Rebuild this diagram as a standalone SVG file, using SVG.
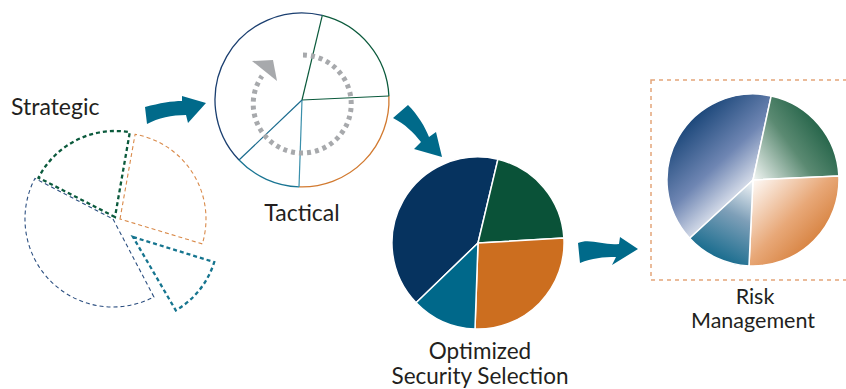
<svg xmlns="http://www.w3.org/2000/svg" width="846" height="389" viewBox="0 0 846 389">
<style>
.lbl{font-family:Lato,"Liberation Sans",sans-serif;font-size:23px;fill:#231f20}
.sm{font-size:21.5px}
.md{font-size:22.5px}
.arrow{fill:#006a8a}
.sep{stroke:#ffffff;stroke-width:1.5;stroke-linejoin:round}
.dg{fill:none;stroke:#0b5a3c;stroke-width:2.3;stroke-dasharray:4 3}
.dt{fill:none;stroke:#16758f;stroke-width:2.3;stroke-dasharray:4 3}
.db{fill:none;stroke:#2c4f80;stroke-width:1.1;stroke-dasharray:4 3}
.do{fill:none;stroke:#d98a4a;stroke-width:1.1;stroke-dasharray:4 3}
.arc{fill:none;stroke-width:1.3}
</style>
<defs>
<linearGradient id="gN" gradientUnits="userSpaceOnUse" x1="685" y1="110" x2="762" y2="192"><stop offset="0" stop-color="#0a3a6e"/><stop offset="0.55" stop-color="#6f86b3"/><stop offset="1" stop-color="#ffffff"/></linearGradient>
<linearGradient id="gG" gradientUnits="userSpaceOnUse" x1="838" y1="118" x2="750" y2="182"><stop offset="0" stop-color="#0b5236"/><stop offset="0.5" stop-color="#5b8a72"/><stop offset="1" stop-color="#ffffff"/></linearGradient>
<linearGradient id="gO" gradientUnits="userSpaceOnUse" x1="750" y1="178" x2="832" y2="258"><stop offset="0" stop-color="#ffffff"/><stop offset="0.5" stop-color="#e8a878"/><stop offset="1" stop-color="#cc6a1c"/></linearGradient>
<linearGradient id="gT" gradientUnits="userSpaceOnUse" x1="712" y1="262" x2="756" y2="178"><stop offset="0" stop-color="#0c6689"/><stop offset="0.55" stop-color="#7e9fb8"/><stop offset="1" stop-color="#ffffff"/></linearGradient>
</defs>

<g id="strategic">
<path class="db" d="M113,219 L153.9,296.9 A88,88 0 0 1 34.9,178.4 Z"/>
<path class="do" d="M120,219 L135.1,134.3 A86,86 0 0 1 202.3,243.9 Z"/>
<path class="dg" d="M115,217 L38.5,177.7 A86,86 0 0 1 129.8,132.3 Z"/>
<path class="dt" d="M133,237 L214.2,262.1 A85,85 0 0 1 175.8,310.4 Z"/>
<text class="lbl" x="11" y="115">Strategic</text>
</g>

<g id="tactical">
<path class="arc" stroke="#1b3f70" d="M239,160 A87,87 0 0 1 322.3,15.4"/>
<path class="arc" stroke="#0b5a3c" d="M322.3,15.4 A87,87 0 0 1 388.9,96"/>
<path class="arc" stroke="#d27a30" d="M388.9,96 A87,87 0 0 1 299,186.9"/>
<path class="arc" stroke="#1a7593" d="M299,186.9 A87,87 0 0 1 239,160"/>
<line x1="302" y1="100" x2="322.3" y2="15.4" stroke="#0b5a3c" stroke-width="1.2"/>
<line x1="302" y1="100" x2="388.9" y2="96" stroke="#0b5a3c" stroke-width="1.2"/>
<line x1="302" y1="100" x2="299" y2="186.9" stroke="#3a8fab" stroke-width="1.2"/>
<line x1="302" y1="100" x2="239" y2="160" stroke="#1a6b8e" stroke-width="1.2"/>
<path d="M303,55 A49,49 0 1 1 262,76" fill="none" stroke="#a7a9ac" stroke-width="5" stroke-dasharray="4 4"/>
<polygon points="252,61 277,81 273,60" fill="#a7a9ac"/>
<text class="lbl" x="302" y="221" text-anchor="middle">Tactical</text>
</g>

<g id="optimized">
<path fill="#06335f" class="sep" d="M478,243 L416.1,302.7 A86,86 0 0 1 497.9,159.3 Z"/>
<path fill="#0a5238" class="sep" d="M478,243 L497.9,159.3 A86,86 0 0 1 563.9,238 Z"/>
<path fill="#cc6e1f" class="sep" d="M478,243 L563.9,238 A86,86 0 0 1 475,329 Z"/>
<path fill="#00688a" class="sep" d="M478,243 L475,329 A86,86 0 0 1 416.1,302.7 Z"/>
<text class="lbl md" x="480" y="359" text-anchor="middle">Optimized</text>
<text class="lbl md" x="480" y="384" text-anchor="middle">Security Selection</text>
</g>

<g id="risk">
<rect x="651" y="80" width="210" height="200" fill="none" stroke="#e3a57a" stroke-width="1.5" stroke-dasharray="4 4"/>
<path fill="url(#gN)" class="sep" d="M753,180 L689.7,238.2 A86,86 0 0 1 771.2,95.9 Z"/>
<path fill="url(#gG)" class="sep" d="M753,180 L771.2,95.9 A86,86 0 0 1 838.9,176 Z"/>
<path fill="url(#gO)" class="sep" d="M753,180 L838.9,176 A86,86 0 0 1 749,265.9 Z"/>
<path fill="url(#gT)" class="sep" d="M753,180 L749,265.9 A86,86 0 0 1 689.7,238.2 Z"/>
<text class="lbl sm" x="755" y="304" text-anchor="middle">Risk</text>
<text class="lbl sm" x="753" y="328" text-anchor="middle">Management</text>
</g>

<g id="connectors">
<path class="arrow" d="M145,107 C160,103 172,101 182,101 L182,96 L206,103 L188,123 L186,115 C172,115 158,118 147,124 Z"/>
<path class="arrow" d="M393,118 L408,105 C418,115 425,127 429,137 L436,132 L442,157 L414,149 L421,142 C414,133 405,124 393,118 Z"/>
<path class="arrow" d="M578,243 C590,238 605,246 619,244 L620,237 L638,249 L612,265 L616,257 C603,257 592,258 580,263 Z"/>
</g>
</svg>
